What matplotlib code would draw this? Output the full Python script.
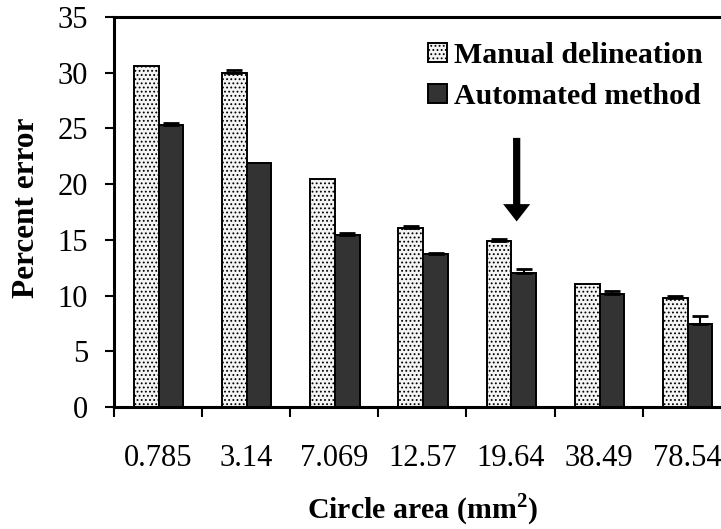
import numpy as np
import matplotlib
matplotlib.use("Agg")
import matplotlib.pyplot as plt

# Percent error of circle-area estimates, by true circle area
areas = ["0.785", "3.14", "7.069", "12.57", "19.64", "38.49", "78.54"]
manual = [30.6, 30.0, 20.5, 16.1, 14.9, 11.0, 9.8]
manual_err = [0.0, 0.2, 0.0, 0.15, 0.15, 0.0, 0.15]
automated = [25.3, 21.9, 15.4, 13.7, 12.0, 10.1, 7.45]
automated_err = [0.15, 0.0, 0.18, 0.15, 0.36, 0.33, 0.69]
series_names = ["Manual delineation", "Automated method"]
y_ticks = [0, 5, 10, 15, 20, 25, 30, 35]

plt.rcParams["font.family"] = ["Liberation Serif", "DejaVu Serif"]
plt.rcParams["mathtext.fontset"] = "custom"
plt.rcParams["mathtext.rm"] = "Liberation Serif:bold"
plt.rcParams["mathtext.bf"] = "Liberation Serif:bold"
plt.rcParams["hatch.color"] = "#9a9a9a"
plt.rcParams["hatch.linewidth"] = 0.8

W, H = 721, 529
fig = plt.figure(figsize=(W / 100, H / 100), dpi=100)
ax_left, ax_right, ax_top, ax_bottom = 113.6, 731.0, 17.0, 407.0
ax = fig.add_axes([ax_left / W, 1 - ax_bottom / H,
                   (ax_right - ax_left) / W, (ax_bottom - ax_top) / H])

x = np.arange(len(areas))
w = 0.28
off = 0.14
ax.bar(x - off + 0.01, manual, w, color="#f4f4f4", edgecolor="black",
       linewidth=1.4, hatch="....", label=series_names[0], zorder=2)
ax.bar(x + off + 0.01, automated, w, color="#333333", edgecolor="black",
       linewidth=1.4, label=series_names[1], zorder=2)

# upper error bars only (lower half is hidden by the bar)
for pos, vals, errs in [(x - off + 0.01, manual, manual_err),
                        (x + off + 0.01, automated, automated_err)]:
    idx = [i for i, e in enumerate(errs) if e > 0]
    ax.errorbar(pos[idx], np.array(vals)[idx],
                yerr=[np.zeros(len(idx)), np.array(errs)[idx]],
                fmt="none", ecolor="black", elinewidth=1.5, capsize=5.5,
                capthick=2, zorder=3)

ax.set_xlim(-0.5, len(areas) - 0.5)
ax.set_ylim(0, 35)
ax.set_yticks(y_ticks)
ax.set_xticks(x)
ax.set_xticklabels(areas)
ax.set_xticks(np.arange(-0.5, len(areas)), minor=True)
ax.tick_params(axis="x", which="major", length=0, pad=26.5, labelsize=22)
ax.tick_params(axis="x", which="minor", length=7.5, width=1.5,
               direction="out")
ax.tick_params(axis="y", length=6.5, width=1.5, direction="out", pad=12,
               labelsize=22)

for s in ax.spines.values():
    s.set_linewidth(2.2)

ax.set_xlabel("Circle area (mm$^{2}$)", fontsize=21.5, fontweight="bold",
              va="center")
ax.xaxis.set_label_coords(0.5, (ax_bottom - 510) / (ax_bottom - ax_top))
ax.set_ylabel("Percent error", fontsize=22.5, fontweight="bold",
              va="center")
ax.yaxis.set_label_coords((27 - ax_left) / (ax_right - ax_left), 0.51)

# arrow pointing at the 19.64 mm^2 group
ax.annotate("", xy=(4.07, 16.4), xytext=(4.07, 24.4),
            arrowprops=dict(arrowstyle="simple,head_length=1.25,head_width=1.95,tail_width=0.52",
                            mutation_scale=10, color="black", lw=0),
            zorder=4)

ax.legend(loc="upper left", bbox_to_anchor=(428 / W, 1 - 42 / H),
          bbox_transform=fig.transFigure, frameon=False, borderpad=0,
          borderaxespad=0, handlelength=0.62, handleheight=0.56,
          handletextpad=0.26, labelspacing=0.47,
          prop={"size": 21.5, "weight": "bold"})

fig.savefig("out.png", dpi=100)
